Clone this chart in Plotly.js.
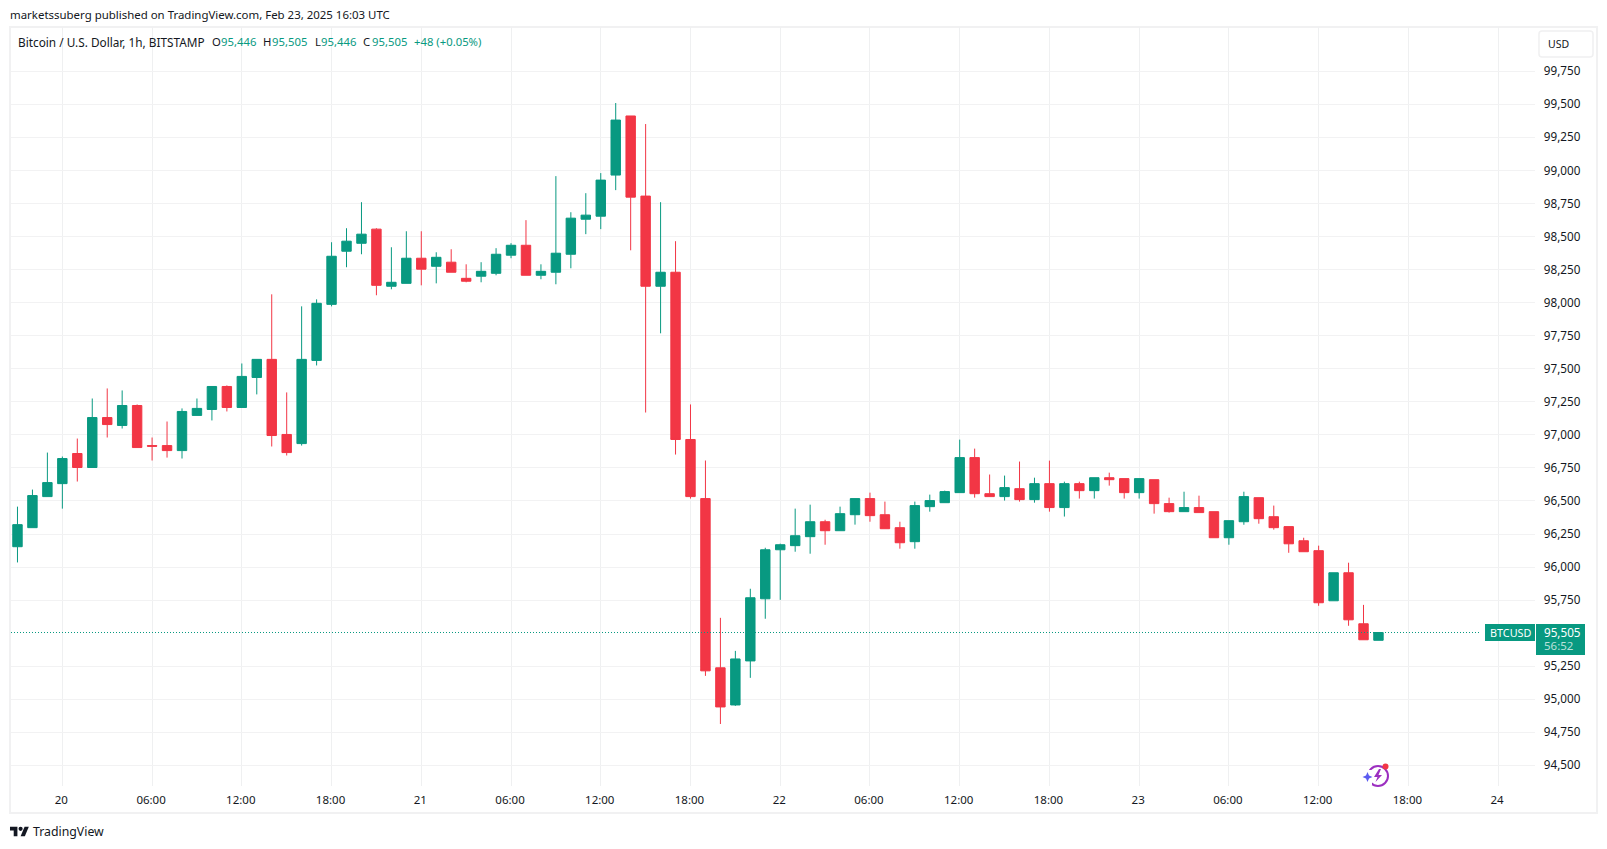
<!DOCTYPE html>
<html><head><meta charset="utf-8">
<script src="https://cdn.plot.ly/plotly-3.0.1.min.js"></script>
<style>html,body{margin:0;padding:0;background:#fff;overflow:hidden}#chart{width:1607px;height:849px}</style>
</head><body><div id="chart"></div>
<script>
const times = [
'2025-02-19 21:00','2025-02-19 22:00','2025-02-19 23:00',
'2025-02-20 00:00','2025-02-20 01:00','2025-02-20 02:00','2025-02-20 03:00','2025-02-20 04:00','2025-02-20 05:00','2025-02-20 06:00','2025-02-20 07:00','2025-02-20 08:00','2025-02-20 09:00','2025-02-20 10:00','2025-02-20 11:00','2025-02-20 12:00','2025-02-20 13:00','2025-02-20 14:00','2025-02-20 15:00','2025-02-20 16:00','2025-02-20 17:00','2025-02-20 18:00','2025-02-20 19:00','2025-02-20 20:00','2025-02-20 21:00','2025-02-20 22:00','2025-02-20 23:00',
'2025-02-21 00:00','2025-02-21 01:00','2025-02-21 02:00','2025-02-21 03:00','2025-02-21 04:00','2025-02-21 05:00','2025-02-21 06:00','2025-02-21 07:00','2025-02-21 08:00','2025-02-21 09:00','2025-02-21 10:00','2025-02-21 11:00','2025-02-21 12:00','2025-02-21 13:00','2025-02-21 14:00','2025-02-21 15:00','2025-02-21 16:00','2025-02-21 17:00','2025-02-21 18:00','2025-02-21 19:00','2025-02-21 20:00','2025-02-21 21:00','2025-02-21 22:00','2025-02-21 23:00',
'2025-02-22 00:00','2025-02-22 01:00','2025-02-22 02:00','2025-02-22 03:00','2025-02-22 04:00','2025-02-22 05:00','2025-02-22 06:00','2025-02-22 07:00','2025-02-22 08:00','2025-02-22 09:00','2025-02-22 10:00','2025-02-22 11:00','2025-02-22 12:00','2025-02-22 13:00','2025-02-22 14:00','2025-02-22 15:00','2025-02-22 16:00','2025-02-22 17:00','2025-02-22 18:00','2025-02-22 19:00','2025-02-22 20:00','2025-02-22 21:00','2025-02-22 22:00','2025-02-22 23:00',
'2025-02-23 00:00','2025-02-23 01:00','2025-02-23 02:00','2025-02-23 03:00','2025-02-23 04:00','2025-02-23 05:00','2025-02-23 06:00','2025-02-23 07:00','2025-02-23 08:00','2025-02-23 09:00','2025-02-23 10:00','2025-02-23 11:00','2025-02-23 12:00','2025-02-23 13:00','2025-02-23 14:00','2025-02-23 15:00','2025-02-23 16:00'];
const opens = [96154,96298,96533,96631,96859,96753,97131,97071,97222,96919,96919,96881,97147,97192,97366,97207,97434,97571,97003,96934,97563,97987,98389,98449,98556,98124,98146,98336,98275,98306,98184,98200,98222,98359,98434,98207,98230,98366,98631,98654,98965,99412,98806,98124,98230,96965,96518,95238,94957,95290,95760,96131,96162,96230,96343,96275,96396,96518,96396,96298,96192,96457,96487,96563,96828,96555,96533,96593,96510,96631,96450,96631,96578,96676,96669,96563,96661,96480,96419,96450,96419,96222,96343,96525,96381,96306,96199,96124,95745,95957,95571,95446];
const highs = [96457,96586,96866,96836,96972,97275,97351,97336,97230,96980,97101,97200,97275,97366,97374,97540,97571,98063,97321,97972,98025,98457,98563,98760,98563,98419,98540,98540,98381,98404,98290,98306,98412,98450,98624,98290,98957,98684,98828,98980,99510,99412,99351,98760,98465,97230,96806,95616,95366,95836,96146,96177,96442,96472,96358,96457,96518,96563,96495,96343,96495,96548,96578,96964,96896,96700,96692,96798,96676,96805,96646,96646,96676,96714,96669,96669,96661,96525,96570,96540,96419,96351,96570,96525,96465,96306,96222,96162,95957,96033,95714,95505];
const lows = [96035,96298,96533,96442,96647,96753,96980,97048,96904,96806,96828,96821,97147,97109,97177,97207,97306,96912,96844,96919,97525,97972,98268,98366,98056,98101,98146,98131,98146,98230,98154,98154,98207,98336,98207,98177,98139,98260,98518,98556,98851,98396,97169,97768,96851,96518,95177,94813,94950,95162,95609,95752,96116,96101,96169,96275,96321,96343,96290,96139,96139,96419,96487,96563,96525,96533,96503,96495,96487,96419,96382,96518,96518,96616,96518,96518,96404,96412,96419,96412,96222,96169,96320,96328,96283,96108,96116,95707,95745,95556,95450,95446];
const closes = [96321,96541,96639,96821,96753,97131,97078,97222,96904,96914,96881,97177,97200,97366,97207,97442,97571,96995,96866,97571,97995,98351,98465,98518,98131,98154,98336,98253,98343,98230,98162,98237,98366,98434,98207,98237,98374,98639,98662,98927,99381,98798,98124,98230,96965,96533,95215,94942,95305,95768,96131,96169,96237,96343,96275,96404,96518,96389,96290,96184,96465,96503,96571,96828,96555,96533,96601,96510,96631,96450,96631,96578,96676,96661,96563,96669,96480,96419,96450,96412,96222,96351,96533,96366,96298,96176,96116,95730,95957,95601,95450,95505];

const xTickVals = ['2025-02-20 00:00','2025-02-20 06:00','2025-02-20 12:00','2025-02-20 18:00','2025-02-21 00:00','2025-02-21 06:00','2025-02-21 12:00','2025-02-21 18:00','2025-02-22 00:00','2025-02-22 06:00','2025-02-22 12:00','2025-02-22 18:00','2025-02-23 00:00','2025-02-23 06:00','2025-02-23 12:00','2025-02-23 18:00','2025-02-24 00:00'];
const xTickText = ['20','06:00','12:00','18:00','21','06:00','12:00','18:00','22','06:00','12:00','18:00','23','06:00','12:00','18:00','24'];
const yTickVals = [94500,94750,95000,95250,95750,96000,96250,96500,96750,97000,97250,97500,97750,98000,98250,98500,98750,99000,99250,99500,99750];
const yTickText = ['94,500','94,750','95,000','95,250','95,750','96,000','96,250','96,500','96,750','97,000','97,250','97,500','97,750','98,000','98,250','98,500','98,750','99,000','99,250','99,500','99,750'];
const lastPrice = 95505;

const UP='#089981', DOWN='#F23645', INK='#131722', FONT='"Noto Sans", sans-serif';
const L=11, R=1535, T=27, B=786;
const px=x=>(x-L)/(R-L), py=y=>(B-y)/(B-T);
const P=(x,y)=>px(x).toFixed(5)+','+py(y).toFixed(5);
const poly=pts=>'M'+pts.map(p=>P(p[0],p[1])).join('L')+'Z';
const rect=(x0,y0,x1,y1,o)=>Object.assign({type:'rect',xref:'paper',yref:'paper',x0:px(x0),x1:px(x1),y0:py(y0),y1:py(y1)},o);
const circ=(cx,cy,r,o)=>Object.assign({type:'circle',xref:'paper',yref:'paper',x0:px(cx-r),x1:px(cx+r),y0:py(cy+r),y1:py(cy-r),layer:'above'},o);
const path=(d,o)=>Object.assign({type:'path',xref:'paper',yref:'paper',path:d,layer:'above'},o);
const txt=(x,y,text,color,size,anchor,extra)=>Object.assign({xref:'paper',yref:'paper',x:px(x),y:py(y),text:text,showarrow:false,xanchor:anchor||'left',yanchor:'middle',font:{family:FONT,size:size||12,color:color||INK},borderpad:0,borderwidth:0},extra||{});

const lg=(x,y)=>[10+x*0.53,824.6+y*0.53];
const logoT=poly([[14,22],[7,22],[7,11],[0,11],[0,4],[14,4]].map(p=>lg(p[0],p[1])));
const logoV=poly([[28,22],[20,22],[27.5,4],[35.5,4]].map(p=>lg(p[0],p[1])));

const shapes=[
 rect(10,27,1597,813,{line:{color:'#f1f1f2',width:2},fillcolor:'rgba(0,0,0,0)',layer:'below'}),
 {type:'line',xref:'paper',yref:'y',x0:0,x1:px(1479),y0:lastPrice,y1:lastPrice,line:{color:UP,width:1,dash:'1px,2px'},layer:'above'},
 rect(1485,624,1535,641,{line:{width:0},fillcolor:UP,layer:'above'}),
 rect(1536,624,1585,655,{line:{width:0},fillcolor:UP,layer:'above'}),
 path('M'+P(1542,31)+'L'+P(1590,31)+'Q'+P(1593,31)+' '+P(1593,34)+'L'+P(1593,54)+'Q'+P(1593,57)+' '+P(1590,57)+'L'+P(1542,57)+'Q'+P(1539,57)+' '+P(1539,54)+'L'+P(1539,34)+'Q'+P(1539,31)+' '+P(1542,31)+'Z',{line:{color:'#f0f0f1',width:1.5},fillcolor:'#ffffff'}),
 path(logoT,{line:{width:0},fillcolor:INK}),
 path(logoV,{line:{width:0},fillcolor:INK}),
 circ(10+20*0.53,824.6+8*0.53,2.1,{line:{width:0},fillcolor:INK}),
 circ(1378,776,10,{line:{color:'#9c2fc0',width:2},fillcolor:'rgba(0,0,0,0)'}),
 rect(1364,770,1372,785,{line:{width:0},fillcolor:'#ffffff',layer:'above'}),
 path(poly([[1379,769],[1374,777],[1377.5,777],[1375.5,782],[1382,775],[1378.5,775],[1381,769]]),{line:{width:0},fillcolor:'#9c2fc0'}),
 path(poly([[1367.5,772],[1369,775.5],[1372.5,777],[1369,778.5],[1367.5,782],[1366,778.5],[1362.5,777],[1366,775.5]]),{line:{width:0},fillcolor:'#5b5cf0'}),
 circ(1385.5,766.5,3,{line:{width:0},fillcolor:'#f23645'})
];

const annotations=[
 txt(10,14.7,'marketssuberg published on TradingView.com, Feb 23, 2025 16:03 UTC',INK,11.45),
 txt(18,41.7,'Bitcoin / U.S. Dollar, 1h, BITSTAMP',INK,11.8),
 txt(212,41.7,'O',INK,11.3), txt(221,41.7,'95,446',UP,11.3),
 txt(263,41.7,'H',INK,11.3), txt(272,41.7,'95,505',UP,11.3),
 txt(315,41.7,'L',INK,11.3), txt(321,41.7,'95,446',UP,11.3),
 txt(363,41.7,'C',INK,11.3), txt(372,41.7,'95,505',UP,11.3),
 txt(414,41.7,'+48 (+0.05%)',UP,11.3),
 txt(1548,44.3,'USD',INK,10.5),
 txt(1510,632.3,'BTCUSD','#ffffff',10.8,'center'),
 txt(1544,631.7,'95,505','#ffffff',11.7),
 txt(1544,645.7,'56:52','rgba(255,255,255,0.72)',11.5),
 txt(33,831.7,'TradingView',INK,12.3)
];

const data=[{type:'candlestick',x:times,open:opens,high:highs,low:lows,close:closes,
 increasing:{line:{color:UP,width:1},fillcolor:UP},
 decreasing:{line:{color:DOWN,width:1},fillcolor:DOWN},
 whiskerwidth:0,hoverinfo:'skip',showlegend:false}];

const layout={width:1607,height:849,margin:{l:L,r:1607-R,t:T,b:849-B,pad:0},
 paper_bgcolor:'#ffffff',plot_bgcolor:'#ffffff',showlegend:false,boxgap:0.1,
 font:{family:FONT,size:12,color:INK},
 xaxis:{type:'date',range:['2025-02-19 20:34','2025-02-24 02:28'],rangeslider:{visible:false},
  tickmode:'array',tickvals:xTickVals,ticktext:xTickText,tickangle:0,ticklabelshift:-1,
  showgrid:true,gridcolor:'#eff0f1',gridwidth:1,zeroline:false,showline:false,
  ticks:'outside',ticklen:3.5,tickcolor:'rgba(0,0,0,0)',tickfont:{family:FONT,size:11.5,color:INK}},
 yaxis:{side:'right',range:[94344,100085],tickmode:'array',tickvals:yTickVals,ticktext:yTickText,ticklabelshift:-1.5,
  showgrid:true,gridcolor:'#f2f2f3',gridwidth:1,zeroline:false,showline:false,
  ticks:'outside',ticklen:5.5,tickcolor:'rgba(0,0,0,0)',tickfont:{family:FONT,size:11.7,color:INK}},
 shapes:shapes,annotations:annotations};
Plotly.newPlot('chart',data,layout,{displayModeBar:false,staticPlot:true});
</script></body></html>
